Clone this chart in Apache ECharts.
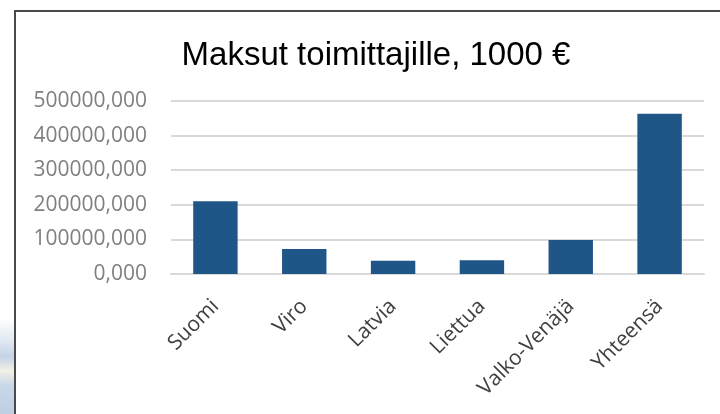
<!DOCTYPE html>
<html>
<head>
<meta charset="utf-8">
<script src="https://cdn.jsdelivr.net/npm/echarts@6/dist/echarts.min.js"></script>
<style>
  html, body { margin: 0; padding: 0; background: #fff; }
  #chart { width: 720px; height: 414px; }
</style>
</head>
<body>
<div id="chart"></div>
<script>
// maksut maittain, 1000 €
const categories = ["Suomi", "Viro", "Latvia", "Liettua", "Valko-Venäjä", "Yhteensä"];
const payments = [210000, 72000, 38500, 39500, 98000, 463500];
const yMin = 0;
const yMax = 500000;
const yStep = 100000;

const chart = echarts.init(document.getElementById("chart"));

chart.setOption({
  backgroundColor: "#fff",
  animation: false,
  title: {
    text: "Maksut toimittajille, 1000 €",
    left: 371,
    top: 34,
    textAlign: "center",
    textStyle: {
      fontFamily: "Liberation Sans, Arial, sans-serif",
      fontSize: 33,
      fontWeight: "normal",
      color: "#000",
    },
  },
  grid: {
    left: 171,
    right: 16,
    top: 101,
    bottom: 140,
  },
  xAxis: {
    type: "category",
    data: categories,
    axisLine: {
      show: true,
      lineStyle: { color: "#d9d9d9", width: 2 },
    },
    axisTick: { show: false },
    axisLabel: {
      rotate: 45,
      margin: 29,
      interval: 0,
      color: "#404040",
      fontFamily: "Open Sans, sans-serif",
      fontSize: 21,
    },
  },
  yAxis: {
    type: "value",
    min: yMin,
    max: yMax,
    interval: yStep,
    axisLine: { show: false },
    axisTick: { show: false },
    axisLabel: {
      margin: 24,
      color: "#7f7f7f",
      fontFamily: "Open Sans, sans-serif",
      fontSize: 21,
      formatter: (v) => v.toFixed(3).replace(".", ","),
    },
    splitLine: {
      lineStyle: { color: "#d9d9d9", width: 2 },
    },
  },
  series: [
    {
      type: "bar",
      data: payments,
      barCategoryGap: "50%",
      itemStyle: {
        color: "#1f5587",
      },
    },
  ],
  graphic: [
    {
      // kehys
      type: "rect",
      shape: { x: 15, y: 11, width: 740, height: 440 },
      style: { fill: "none", stroke: "#4a4a4a", lineWidth: 2 },
      silent: true,
    },
    {
      // taustakuvan reuna vasemmalla alhaalla
      type: "rect",
      shape: { x: 0, y: 318, width: 14, height: 96 },
      style: {
        fill: new echarts.graphic.LinearGradient(0, 0, 0, 1, [
          { offset: 0, color: "#ffffff" },
          { offset: 0.25, color: "#dfe7f1" },
          { offset: 0.4, color: "#c3d3e6" },
          { offset: 0.55, color: "#f3f0e6" },
          { offset: 0.7, color: "#c8d7e8" },
          { offset: 1, color: "#bfd0e4" },
        ]),
      },
      silent: true,
    },
  ],
});
</script>
</body>
</html>
